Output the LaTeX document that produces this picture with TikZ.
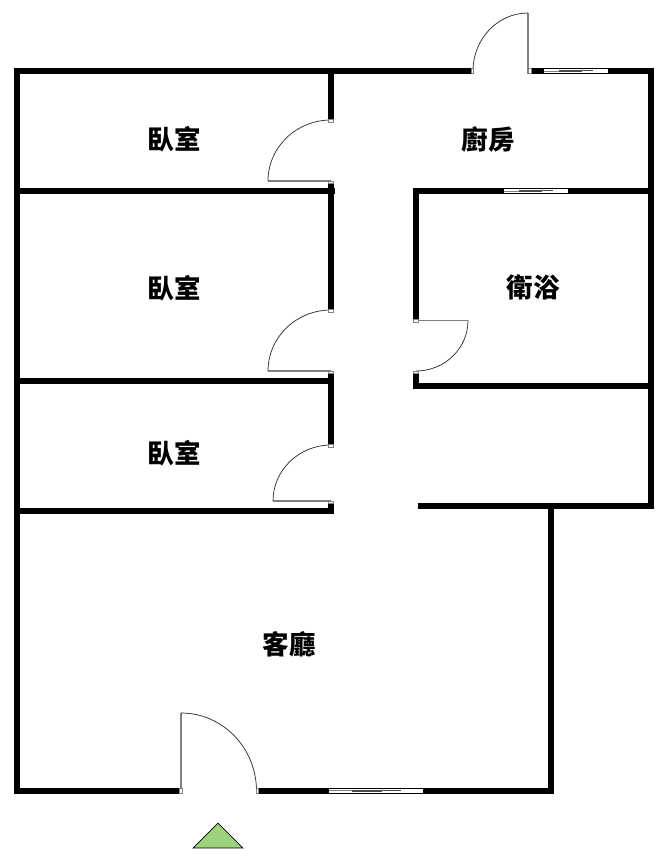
\documentclass[tikz,border=0pt]{standalone}
\usepackage{fontspec}
\newfontfamily\cjk{Noto Sans CJK TC}
\definecolor{leafgray}{HTML}{808080}
\definecolor{arrowgreen}{HTML}{9BD27B}
\tikzset{
  wall/.style={line width=5.6pt,line cap=butt,black},
  leaf/.style={line width=1.2pt,leafgray},
  swing/.style={line width=0.7pt,black!85},
  jamb/.style={fill=white,draw=leafgray,line width=0.3pt},
  room/.style={font=\cjk\bfseries\fontsize{26.5}{26.5}\selectfont,inner sep=0pt,black},
  winpane/.style={fill=white,draw=none}
}
% window along a horizontal wall: #1 left x, #2 right x, #3 top y
\newcommand{\hwindow}[3]{%
  \fill[white] (#1,#3) rectangle (#2,#3+4);
  \pgfmathsetmacro{\wa}{#1+(#2-#1)*0.24}
  \pgfmathsetmacro{\wb}{#1+(#2-#1)*0.77}
  \pgfmathsetmacro{\wc}{#1+(#2-#1)*0.5}
  \draw[leafgray,line width=0.8pt] (#1,#3+1.7) -- (\wc,#3+1.7);
  \draw[black!70,line width=0.8pt] (\wa,#3+1) -- (\wb,#3+1);
  \draw[black!70,line width=0.6pt] (\wa,#3+2) -- (\wc+6,#3+2);
}
\newcommand{\hjamb}[2]{\draw[jamb] (#1-2.5,#2) rectangle (#1+2.5,#2+2.6);}
\newcommand{\vjamb}[2]{\draw[jamb] (#1,#2-2.5) rectangle (#1+2.2,#2+2.5);}
\begin{document}
\begin{tikzpicture}[x=1pt,y=-1pt]
\useasboundingbox (0,0) rectangle (665,860);
\fill[white] (0,0) rectangle (665,860);
% outer walls
\draw[wall] (472.5,71) -- (14,71);
\draw[wall] (17,68.2) -- (17,794);
\draw[wall] (14,791) -- (181,791);
\draw[wall] (257,791) -- (554,791);
\draw[wall] (551,794) -- (551,503.5);
\draw[wall] (418,506) -- (653.5,506);
\draw[wall] (651,508.8) -- (651,68.2);
\draw[wall] (653.5,71) -- (528,71);
% inner walls
\draw[wall] (14,191) -- (334.5,191);
\draw[wall] (14,381) -- (334,381);
\draw[wall] (14,511) -- (334,511);
\draw[wall] (331,68.2) -- (331,120);
\draw[wall] (331,181) -- (331,310);
\draw[wall] (331,371) -- (331,445);
\draw[wall] (331,501) -- (331,513.8);
\draw[wall] (416,188.2) -- (416,320);
\draw[wall] (416,371) -- (416,388.8);
\draw[wall] (413.2,191) -- (653.5,191);
\draw[wall] (413.2,386) -- (653.5,386);
% windows
\hwindow{544}{608}{69.2}
\hwindow{504}{568}{189.2}
\hwindow{329}{423}{789}
% door leaves and swings
\draw[leaf] (528,73.5) -- (528,13);
\draw[swing] (528,13) arc[start angle=90,end angle=180,x radius=55,y radius=-58];
\draw[leaf] (331,181) -- (268,181);
\draw[swing] (268,181) arc[start angle=180,end angle=90,x radius=63,y radius=-61];
\draw[leaf] (331,371) -- (268,371);
\draw[swing] (268,371) arc[start angle=180,end angle=90,x radius=63,y radius=-61];
\draw[leaf] (331,501) -- (273,501);
\draw[swing] (273,501) arc[start angle=180,end angle=90,x radius=58,y radius=-56];
\draw[leaf] (416,320.5) -- (468,320.5);
\draw[swing] (468,320.5) arc[start angle=0,end angle=-90,x radius=52,y radius=-50.5];
\draw[leaf] (181,793.5) -- (181,713);
\draw[swing] (181,713) arc[start angle=90,end angle=0,x radius=75.5,y radius=-78];
% jambs
\hjamb{331}{119.5}
\hjamb{331}{181}
\hjamb{331}{309.5}
\hjamb{331}{371}
\hjamb{331}{444.5}
\hjamb{331}{501}
\hjamb{416}{319.5}
\hjamb{416}{371}
\vjamb{471.2}{71}
\vjamb{528.5}{71}
\vjamb{179.5}{791}
\vjamb{255.8}{791}
% entrance marker
\draw[fill=arrowgreen,draw=black,line width=0.7pt,line join=miter] (218,823) -- (243,848) -- (193,848) -- cycle;
% room labels
\node[room] (bed1) at (174,139) {臥室};
\node[room] (bed2) at (174,288) {臥室};
\node[room] (bed3) at (174,453) {臥室};
\node[room] (kitchen) at (488,139) {廚房};
\node[room] (bath) at (533,287) {衛浴};
\node[room] (living) at (289,644) {客廳};
\end{tikzpicture}
\end{document}
